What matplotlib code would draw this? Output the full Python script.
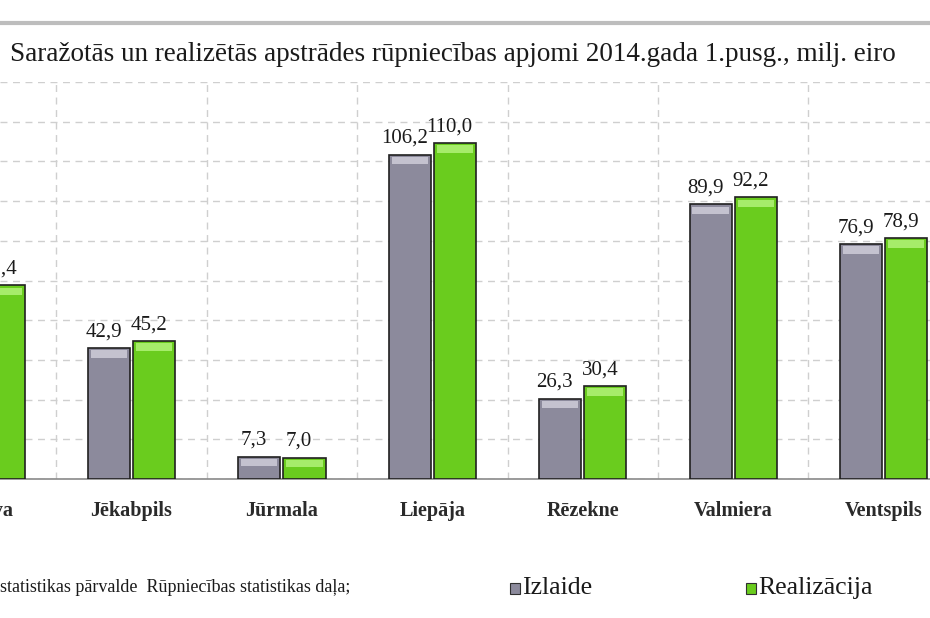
import numpy as np
import matplotlib.pyplot as plt

cities = ['Jelgava', 'Jēkabpils', 'Jūrmala', 'Liepāja', 'Rēzekne', 'Valmiera', 'Ventspils']
izlaide = [np.nan, 42.9, 7.3, 106.2, 26.3, 89.9, 76.9]       # first gray bar is outside the crop
realizacija = [63.4, 45.2, 7.0, 110.0, 30.4, 92.2, 78.9]

title = 'Saražotās un realizētās apstrādes rūpniecības apjomi 2014.gada 1.pusg., milj. eiro'
source = 'statistikas pārvalde  Rūpniecības statistikas daļa;'

gray = '#8c8a9c'
gray_top = '#c4c2cf'
green = '#6acc1e'
green_top = '#a6ec6a'
serif = 'Liberation Serif'

fig = plt.figure(figsize=(9.3, 6.18), dpi=100)
ax = fig.add_axes([0, 0.2249, 1, 0.6424])

x = np.arange(len(cities))
w = 0.28
off = 0.15

for vals, dx, c, ctop in [(izlaide, -off, gray, gray_top), (realizacija, off, green, green_top)]:
    vals = np.array(vals, dtype=float)
    ax.bar(x + dx, vals, w, color=c, edgecolor='#202020', linewidth=1.2, zorder=3)
    # light bevel on the top of each bar
    ax.bar(x + dx, np.full(len(vals), 2.5), w * 0.86, bottom=vals - 3.2,
           color=ctop, linewidth=0, zorder=4)
    for xi, v in zip(x + dx, vals):
        if np.isnan(v):
            continue
        ax.text(xi - 0.035, v + 2.2, f'{v:.1f}'.replace('.', ','), ha='center', va='bottom',
                fontsize=15, family=serif, color='#1a1a1a', zorder=5)

ax.set_yticks(np.arange(0, 131, 13))
ax.set_xticks(x + 0.5, minor=True)
ax.set_xticks([])
ax.set_xlim(0.1257, 6.309)
ax.set_ylim(0, 130)
ax.grid(True, axis='y', linestyle=(0, (5, 4)), color='#cfcfcf', linewidth=1, zorder=0)
ax.grid(True, axis='x', which='minor', linestyle=(0, (5, 4)), color='#cfcfcf', linewidth=1, zorder=0)
ax.tick_params(left=False, labelleft=False, which='both', bottom=False)
for s in ['top', 'right', 'left']:
    ax.spines[s].set_visible(False)
ax.spines['bottom'].set_color('#8a8a8a')
ax.spines['bottom'].set_linewidth(1.2)

for xi, name in zip(x, cities):
    ax.text(xi, -10.5, name, ha='center', va='center', fontsize=14.5, family=serif,
            fontweight='bold', color='#2a2a2a')

fig.text(0.011, 0.912, title, ha='left', va='center', fontsize=19.5, family=serif, color='#1a1a1a')
fig.add_artist(plt.Line2D([0, 1], [0.963, 0.963], color='#bdbdbd', linewidth=3))

fig.text(0.0, 0.049, source, ha='left', va='center', fontsize=13, family=serif, color='#1a1a1a')

# legend
for lx, lab, c in [(0.548, 'Izlaide', gray), (0.802, 'Realizācija', green)]:
    fig.patches.append(plt.Rectangle((lx, 0.039), 0.011, 0.018, transform=fig.transFigure,
                                     facecolor=c, edgecolor='#303030', linewidth=0.8))
    fig.text(lx + 0.013, 0.049, lab, ha='left', va='center', fontsize=18.5, family=serif, color='#1a1a1a')

fig.savefig('out.png', dpi=100)
